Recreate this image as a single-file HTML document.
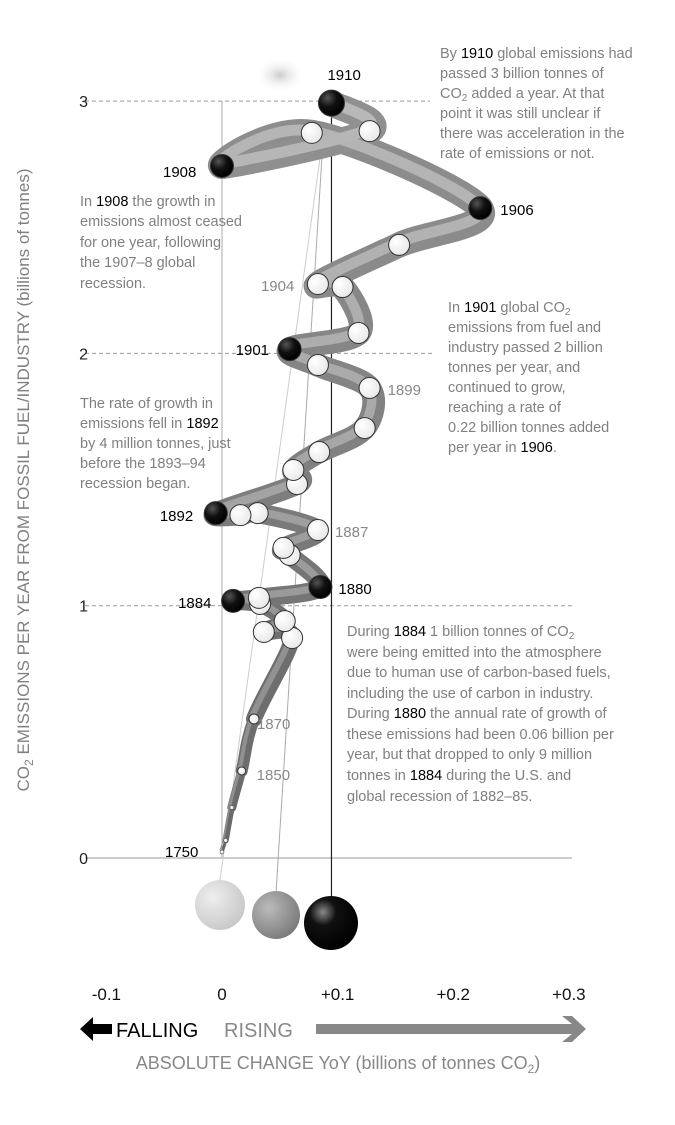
<!DOCTYPE html>
<html><head><meta charset="utf-8">
<style>
html,body{margin:0;padding:0;background:#fff;}
svg{display:block;font-family:"Liberation Sans",sans-serif;}
.ann{font-size:14.5px;fill:#808080;}
.ann tspan.b{fill:#000;}
.yr{font-size:15px;}
</style></head>
<body>
<svg id="chart" width="675" height="1125" viewBox="0 0 675 1125">
<defs>
<radialGradient id="gW" cx="0.35" cy="0.35" r="0.7"><stop offset="0" stop-color="#fff"/><stop offset="1" stop-color="#e8e8e8"/></radialGradient>
<radialGradient id="gB" cx="0.35" cy="0.3" r="0.7"><stop offset="0" stop-color="#555"/><stop offset="0.5" stop-color="#111"/><stop offset="1" stop-color="#000"/></radialGradient>
<radialGradient id="gL" cx="0.35" cy="0.35" r="0.7"><stop offset="0" stop-color="#eee"/><stop offset="1" stop-color="#c8c8c8"/></radialGradient>
<radialGradient id="gM" cx="0.35" cy="0.35" r="0.7"><stop offset="0" stop-color="#bbb"/><stop offset="1" stop-color="#7a7a7a"/></radialGradient>
<radialGradient id="gK" cx="0.35" cy="0.3" r="0.7"><stop offset="0" stop-color="#888"/><stop offset="0.35" stop-color="#111"/><stop offset="1" stop-color="#000"/></radialGradient>
<radialGradient id="gF" cx="0.5" cy="0.5" r="0.5"><stop offset="0" stop-color="#ccc"/><stop offset="1" stop-color="#fff" stop-opacity="0"/></radialGradient>
</defs>
<g id="grid"></g>
<g id="ylabels"></g>
<ellipse cx="280" cy="75" rx="26" ry="18" fill="url(#gF)"/>
<g id="guides"></g>
<g id="tube"></g>
<g id="pts"></g>
<g id="yrs"></g>
<g id="xlabels"></g>

<text transform="translate(29,480) rotate(-90)" text-anchor="middle" font-size="17" fill="#808080">CO<tspan font-size="12" dy="4">2</tspan><tspan dy="-4"> EMISSIONS PER YEAR FROM FOSSIL FUEL/INDUSTRY (billions of tonnes)</tspan></text>

<g class="ann">
<text x="440" y="58">By <tspan class="b">1910</tspan> global emissions had</text>
<text x="440" y="78">passed 3 billion tonnes of</text>
<text x="440" y="98">CO<tspan font-size="10" dy="3">2</tspan><tspan dy="-3"> added a year. At that</tspan></text>
<text x="440" y="118">point it was still unclear if</text>
<text x="440" y="138">there was acceleration in the</text>
<text x="440" y="158">rate of emissions or not.</text>
</g>
<g class="ann">
<text x="80" y="206">In <tspan class="b">1908</tspan> the growth in</text>
<text x="80" y="226">emissions almost ceased</text>
<text x="80" y="247">for one year, following</text>
<text x="80" y="267">the 1907–8 global</text>
<text x="80" y="288">recession.</text>
</g>
<g class="ann">
<text x="448" y="312">In <tspan class="b">1901</tspan> global CO<tspan font-size="10" dy="3">2</tspan></text>
<text x="448" y="332">emissions from fuel and</text>
<text x="448" y="352">industry passed 2 billion</text>
<text x="448" y="372">tonnes per year, and</text>
<text x="448" y="392">continued to grow,</text>
<text x="448" y="412">reaching a rate of</text>
<text x="448" y="432">0.22 billion tonnes added</text>
<text x="448" y="452">per year in <tspan class="b">1906</tspan>.</text>
</g>
<g class="ann">
<text x="80" y="408">The rate of growth in</text>
<text x="80" y="428">emissions fell in <tspan class="b">1892</tspan></text>
<text x="80" y="448">by 4 million tonnes, just</text>
<text x="80" y="468">before the 1893–94</text>
<text x="80" y="488">recession began.</text>
</g>
<g class="ann">
<text x="347" y="636">During <tspan class="b">1884</tspan> 1 billion tonnes of CO<tspan font-size="10" dy="3">2</tspan></text>
<text x="347" y="657">were being emitted into the atmosphere</text>
<text x="347" y="677">due to human use of carbon-based fuels,</text>
<text x="347" y="698">including the use of carbon in industry.</text>
<text x="347" y="718">During <tspan class="b">1880</tspan> the annual rate of growth of</text>
<text x="347" y="739">these emissions had been 0.06 billion per</text>
<text x="347" y="759">year, but that dropped to only 9 million</text>
<text x="347" y="780">tonnes in <tspan class="b">1884</tspan> during the U.S. and</text>
<text x="347" y="801">global recession of 1882–85.</text>
</g>

<g>
<polygon points="80,1029 93,1017 93,1024 112,1024 112,1034 93,1034 93,1041" fill="#000"/>
<text x="116" y="1037" font-size="20" fill="#000">FALLING</text>
<text x="224" y="1037" font-size="20" fill="#888">RISING</text>
<polygon points="316,1024 572,1024 562,1016 572,1016 586,1029 572,1042 562,1042 572,1034 316,1034" fill="#888"/>
</g>
<text x="338" y="1069" text-anchor="middle" font-size="18" fill="#888">ABSOLUTE CHANGE YoY (billions of tonnes CO<tspan font-size="12" dy="4">2</tspan><tspan dy="-4">)</tspan></text>
</svg>
<script>
const yearLabels = ["1750","","","1850","1870","","","","","1884","","1880","","","1887","","","1892","","","","","1899","","1901","","","1904","","1906","","1908","","1910"];
const changes = [0,0.003,0.008,0.016,0.026,0.057,0.034,0.051,0.031,0.009,0.030,0.080,0.055,0.050,0.078,0.029,0.015,-0.005,0.061,0.058,0.079,0.116,0.120,0.078,0.055,0.111,0.098,0.078,0.144,0.210,0.073,0,0.120,0.089];
const emissions = [0.024,0.07,0.2,0.345,0.551,0.872,0.896,0.939,1.007,1.019,1.031,1.074,1.201,1.229,1.300,1.367,1.359,1.367,1.482,1.538,1.609,1.704,1.863,1.954,2.017,2.081,2.263,2.275,2.430,2.576,2.874,2.743,2.881,2.992];
const blackYears = ["1750","1884","1880","1892","1901","1906","1908","1910"];
const yTicks = [0,1,2,3];
const xTicks = [-0.1,0,0.1,0.2,0.3];
const xTickLabels = ["-0.1","0","+0.1","+0.2","+0.3"];

const NS="http://www.w3.org/2000/svg";
const xS=v=>222+v*1230;
const yS=v=>858-v*252.3;
function mk(tag,attrs,parent){const e=document.createElementNS(NS,tag);for(const k in attrs)e.setAttribute(k,attrs[k]);parent.appendChild(e);return e;}
const G=id=>document.getElementById(id);

yTicks.forEach(t=>{
  const x2 = t===3?430:(t===2?435:572);
  const l=mk('line',{x1:85,x2:x2,y1:yS(t),y2:yS(t),stroke:'#999','stroke-width':1,'stroke-dasharray':t===0?'none':'4,3'},G('grid'));
  
  
  const tx=mk('text',{x:88,y:yS(t)+6,'text-anchor':'end','font-size':16,fill:'#222'},G('ylabels'));
  tx.textContent=String(t);
  
  
});
xTicks.forEach((t,i)=>{
  const tx=mk('text',{x:xS(t)*0.94+xS(0)*0.06,y:1000,'text-anchor':'middle','font-size':17,fill:'#111'},G('xlabels'));
  tx.textContent=xTickLabels[i];
  
  
});
const last=changes.length-1;
const zl=mk('line',{x1:xS(0),x2:xS(0),y1:yS(3),y2:yS(0),stroke:'#aaa','stroke-width':1},G('guides'));


const bl=mk('line',{x1:xS(changes[last]),x2:xS(changes[last]),y1:yS(emissions[last]),y2:923,stroke:'#222','stroke-width':1.2},G('guides'));


[[220,880,'#ccc'],[276,893,'#aaa']].forEach((p,i)=>{
  const l=mk('line',{x1:p[0],y1:p[1],x2:xS(changes[last])-8,y2:yS(emissions[last])+30,stroke:p[2],'stroke-width':1},G('guides'));
  
  
});
[[220,905,25,'url(#gL)'],[276,915,24,'url(#gM)'],[331,923,27,'url(#gK)']].forEach((b,i)=>{
  const c=mk('circle',{cx:b[0],cy:b[1],r:b[2],fill:b[3]},G('guides'));
  
  
});
const P=changes.map((c,i)=>[xS(c),yS(emissions[i])]);
const n=P.length;
function seg(i){
  const p0=P[Math.max(0,i-1)],p1=P[i],p2=P[i+1],p3=P[Math.min(n-1,i+2)];
  const c1=[p1[0]+(p2[0]-p0[0])/6,p1[1]+(p2[1]-p0[1])/6];
  const c2=[p2[0]-(p3[0]-p1[0])/6,p2[1]-(p3[1]-p1[1])/6];
  return `M${p1[0]},${p1[1]} C${c1[0]},${c1[1]} ${c2[0]},${c2[1]} ${p2[0]},${p2[1]}`;
}
function shade(i,base,range){const v=Math.round(base+range*i/(n-1));return `rgb(${v},${v},${v})`;}
for(let i=0;i<n-1;i++){
  const w=i<4?3+i*3:Math.min(26,16+(i-4)*0.4);
  const s=mk('path',{d:seg(i),fill:'none',stroke:shade(i,105,40),'stroke-width':w,'stroke-linecap':'round'},G('tube'));
  
  
}
for(let i=0;i<n-1;i++){
  const w=i<4?1+i:Math.min(11,6+(i-4)*0.2);
  const s=mk('path',{d:seg(i),fill:'none',stroke:shade(i,140,45),'stroke-width':w,'stroke-linecap':'round',transform:'translate(-2,-2)'},G('tube'));
  
  
}
P.forEach((p,i)=>{
  const y=yearLabels[i];
  const black=blackYears.includes(y);
  const r = i<3?2:(i<5?(i===3?4:5):(black?(y==="1910"?13:(y==="1750"?2:11.5)):10.5));
  const c=mk('circle',{cx:p[0],cy:p[1],r:r,fill:black&&y!=="1750"?'url(#gB)':'url(#gW)',stroke:'#333','stroke-width':i<3?0.5:1},G('pts'));
  
  
});
const labelOff={"1750":[-57,0],"1850":[15,4],"1870":[3,5],"1884":[-55,2],"1880":[18,2],"1887":[17,2],"1892":[-56,3],"1899":[18,2],"1901":[-54,1],"1904":[-57,2],"1906":[20,2],"1908":[-59,6],"1910":[-4,-28]};
P.forEach((p,i)=>{
  const y=yearLabels[i]; if(!y) return;
  const o=labelOff[y]||[14,4];
  const black=blackYears.includes(y);
  const t=mk('text',{x:p[0]+o[0],y:p[1]+o[1]+5,class:'yr',fill:black?'#000':'#888'},G('yrs'));
  t.textContent=y;
  
  
});
</script>
</body></html>
